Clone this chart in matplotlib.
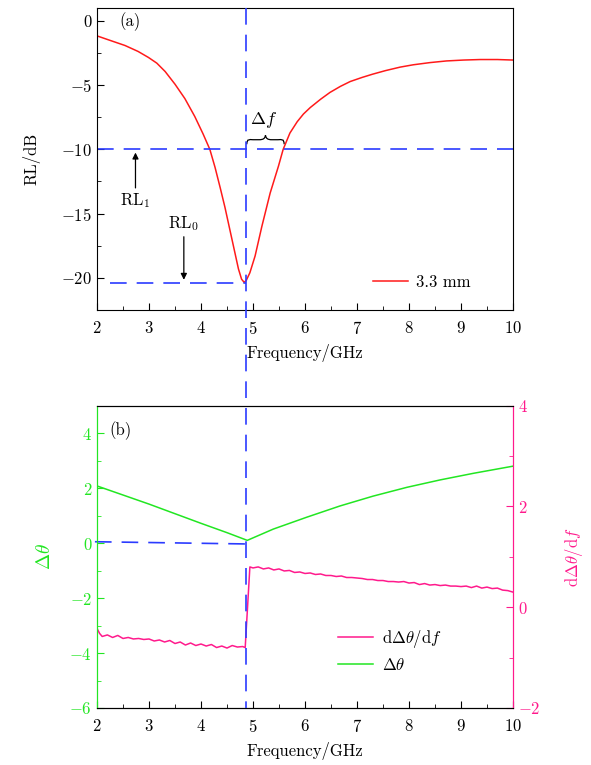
import matplotlib
matplotlib.use("Agg")
import matplotlib.pyplot as plt
from matplotlib.lines import Line2D
from matplotlib.path import Path
from matplotlib.patches import PathPatch
from matplotlib.ticker import MultipleLocator

plt.rcParams['font.family'] = 'serif'
plt.rcParams['font.serif'] = ['cmr10']
plt.rcParams['mathtext.fontset'] = 'cm'
plt.rcParams['axes.formatter.use_mathtext'] = True
plt.rcParams['axes.unicode_minus'] = True
plt.rcParams['font.size'] = 12

# ---- data ----
freq_rl = [2.0, 2.28, 2.54, 2.79, 2.99, 3.15, 3.31, 3.5, 3.69, 3.88, 4.04, 4.17,
           4.27, 4.37, 4.46, 4.59, 4.72, 4.78, 4.83, 4.87, 4.94, 5.04, 5.17,
           5.33, 5.49, 5.58, 5.71, 5.85, 5.97, 6.1, 6.3, 6.48, 6.68, 6.87, 7.1,
           7.3, 7.55, 7.83, 8.08, 8.4, 8.72, 9.05, 9.37, 9.7, 10.0]
rl_33mm = [-1.17, -1.56, -1.92, -2.38, -2.85, -3.29, -3.94, -4.93, -6.05, -7.44,
           -8.8, -10.0, -11.4, -13.0, -14.5, -16.9, -19.3, -20.1, -20.35, -20.2,
           -19.6, -18.3, -16.0, -13.4, -11.3, -10.0, -8.73, -7.85, -7.25, -6.75,
           -6.1, -5.57, -5.1, -4.72, -4.4, -4.15, -3.87, -3.6, -3.42, -3.25,
           -3.12, -3.05, -3.01, -3.01, -3.05]

freq_theta = [2.0, 2.5, 3.0, 3.5, 4.0, 4.5, 4.89, 5.39, 6.03, 6.67, 7.31, 7.96,
              8.6, 9.24, 10.0]
dtheta = [2.08, 1.75, 1.42, 1.07, 0.72, 0.38, 0.1, 0.51, 0.94, 1.35, 1.71, 2.03,
          2.3, 2.54, 2.8]

freq_deriv = [2.0, 2.05, 2.1, 2.2, 2.3, 2.4, 2.5, 2.6, 2.7, 2.8, 2.9, 3.0, 3.1,
              3.2, 3.3, 3.4, 3.5, 3.6, 3.7, 3.8, 3.9, 4.0, 4.1, 4.2, 4.3, 4.4,
              4.5, 4.6, 4.7, 4.8, 4.85, 4.94, 5.0, 5.1, 5.2, 5.3, 5.4, 5.5, 5.6,
              5.7, 5.8, 5.9, 6.0, 6.1, 6.2, 6.3, 6.4, 6.5, 6.6, 6.7, 6.8, 6.9,
              7.0, 7.1, 7.2, 7.3, 7.4, 7.5, 7.6, 7.7, 7.8, 7.9, 8.0, 8.1, 8.2,
              8.3, 8.4, 8.5, 8.6, 8.7, 8.8, 8.9, 9.0, 9.1, 9.2, 9.3, 9.4, 9.5,
              9.6, 9.7, 9.8, 9.9, 10.0]
deriv = [-0.42, -0.52, -0.58, -0.55, -0.60, -0.56, -0.62, -0.60, -0.63, -0.62,
         -0.64, -0.63, -0.67, -0.65, -0.69, -0.66, -0.72, -0.69, -0.75, -0.71,
         -0.76, -0.73, -0.77, -0.74, -0.80, -0.77, -0.81, -0.76, -0.79, -0.78,
         -0.80, 0.80, 0.78, 0.80, 0.76, 0.78, 0.74, 0.76, 0.72, 0.73, 0.69, 0.70,
         0.67, 0.68, 0.65, 0.66, 0.63, 0.63, 0.61, 0.62, 0.59, 0.59, 0.58, 0.57,
         0.55, 0.55, 0.53, 0.53, 0.51, 0.51, 0.50, 0.51, 0.48, 0.49, 0.45, 0.47,
         0.44, 0.45, 0.43, 0.44, 0.42, 0.42, 0.41, 0.42, 0.39, 0.42, 0.38, 0.40,
         0.37, 0.38, 0.34, 0.33, 0.30]

f0 = 4.86          # resonance frequency (vertical guide)
rl0 = -20.37       # RL_0 level
rl1 = -10.0        # RL_1 level
f_hi = 5.6         # upper crossing of RL_1

BLUE = '#2b3bff'
RED = '#ff1a1a'
GREEN = '#22e622'
PINK = '#ff1a8c'
DASH = (10, 6)

fig = plt.figure(figsize=(5.91, 7.65), dpi=100)
W, H = 591, 765
ax1 = fig.add_axes([97 / W, 1 - 310 / H, 416 / W, 302 / H])
ax2 = fig.add_axes([97 / W, 1 - 708 / H, 416 / W, 302.3 / H])

# ---- panel (a) ----
ax1.plot(freq_rl, rl_33mm, color=RED, lw=1.1, label='3.3 mm')
ax1.plot([2, 10], [rl1, rl1], color=BLUE, lw=1.2, dashes=DASH)
ax1.plot([2.25, f0], [rl0, rl0], color=BLUE, lw=1.2, dashes=DASH)
ax1.set_xlim(2, 10)
ax1.set_ylim(-22.5, 1)
ax1.xaxis.set_major_locator(MultipleLocator(1))
ax1.xaxis.set_minor_locator(MultipleLocator(0.5))
ax1.yaxis.set_major_locator(MultipleLocator(5))
ax1.yaxis.set_minor_locator(MultipleLocator(2.5))
ax1.tick_params(which='both', direction='in', top=False, right=False)
ax1.tick_params(which='major', length=5)
ax1.tick_params(which='minor', length=3)
ax1.tick_params(axis='x', pad=7)
ax1.set_xlabel('Frequency/GHz', labelpad=5)
ax1.set_ylabel('RL/dB', labelpad=15)
ax1.legend(loc='center left', bbox_to_anchor=(0.663, 0.093), frameon=False,
           borderaxespad=0, borderpad=0, handlelength=2.1, handletextpad=0.5)
ax1.text(2.63, -0.1, '(a)', ha='center', va='center')
ax1.text(5.2, -7.75, r'$\Delta f$', ha='center', va='center', fontsize=13)
ax1.text(2.74, -13.95, r'RL$_1$', ha='center', va='center')
ax1.text(3.67, -15.8, r'RL$_0$', ha='center', va='center')
ax1.annotate('', xy=(2.74, -10.25), xytext=(2.74, -13.0),
             arrowprops=dict(arrowstyle='-|>', color='black', lw=0.9,
                             mutation_scale=9, shrinkA=0, shrinkB=0))
ax1.annotate('', xy=(3.67, -20.15), xytext=(3.67, -16.8),
             arrowprops=dict(arrowstyle='-|>', color='black', lw=0.9,
                             mutation_scale=9, shrinkA=0, shrinkB=0))

# curly brace over delta f
xa, xb = 4.88, f_hi
xm = 0.5 * (xa + xb)
yb, ymid, yt = -9.6, -9.25, -8.9
d = 0.12
verts = [(xa, yb),
         (xa + 0.01, ymid + 0.1), (xa + 0.04, ymid), (xa + d, ymid),
         (xm - d, ymid),
         (xm - 0.04, ymid), (xm - 0.01, ymid + 0.1), (xm, yt),
         (xm + 0.01, ymid + 0.1), (xm + 0.04, ymid), (xm + d, ymid),
         (xb - d, ymid),
         (xb - 0.04, ymid), (xb - 0.01, ymid + 0.1), (xb, yb)]
codes = [Path.MOVETO,
         Path.CURVE4, Path.CURVE4, Path.CURVE4,
         Path.LINETO,
         Path.CURVE4, Path.CURVE4, Path.CURVE4,
         Path.CURVE4, Path.CURVE4, Path.CURVE4,
         Path.LINETO,
         Path.CURVE4, Path.CURVE4, Path.CURVE4]
ax1.add_patch(PathPatch(Path(verts, codes), fill=False, lw=0.9,
                        edgecolor='black'))

# ---- panel (b) ----
ax2r = ax2.twinx()
l_theta, = ax2.plot(freq_theta, dtheta, color=GREEN, lw=1.1)
ax2.plot([1.96, 4.85], [0.05, -0.03], color=BLUE, lw=1.2, dashes=DASH,
         clip_on=False)
l_der, = ax2r.plot(freq_deriv, deriv, color=PINK, lw=1.1)
ax2.set_xlim(2, 10)
ax2.set_ylim(-6, 5)
ax2r.set_ylim(-2, 4)
ax2.xaxis.set_major_locator(MultipleLocator(1))
ax2.xaxis.set_minor_locator(MultipleLocator(0.5))
ax2.yaxis.set_major_locator(MultipleLocator(2))
ax2.yaxis.set_minor_locator(MultipleLocator(1))
ax2r.yaxis.set_major_locator(MultipleLocator(2))
ax2r.yaxis.set_minor_locator(MultipleLocator(1))
ax2.tick_params(which='both', direction='in', top=False, right=False)
ax2.tick_params(axis='y', which='both', colors=GREEN)
ax2.tick_params(axis='x', pad=7)
ax2r.tick_params(which='both', direction='in', colors=PINK)
for a in (ax2, ax2r):
    a.tick_params(which='major', length=5)
    a.tick_params(which='minor', length=3)
ax2.spines['left'].set_color(GREEN)
ax2r.spines['left'].set_color(GREEN)
ax2r.spines['right'].set_color(PINK)
ax2.spines['right'].set_color(PINK)
ax2.set_xlabel('Frequency/GHz', labelpad=5)
ax2.set_ylabel(r'$\Delta\theta$', color=GREEN, labelpad=11, fontsize=14)
ax2r.set_ylabel(r'$\mathrm{d}\Delta\theta/\mathrm{d}f$', color=PINK, labelpad=16)
ax2.text(2.45, 4.1, '(b)', ha='center', va='center')
ax2r.legend([l_der, l_theta], [r'$\mathrm{d}\Delta\theta/\mathrm{d}f$', r'$\Delta\theta$'],
            loc='upper left', bbox_to_anchor=(0.58, 0.265), frameon=False,
            borderaxespad=0, borderpad=0, handlelength=2.1, handletextpad=0.5,
            labelspacing=0.4)

# vertical guide through both panels
fig.canvas.draw()
xfig = fig.transFigure.inverted().transform(ax1.transData.transform((f0, 0)))[0]
fig.add_artist(Line2D([xfig, xfig], [1 - 8 / H, 1 - 708 / H], color=BLUE, lw=1.2,
                      dashes=DASH, transform=fig.transFigure))

fig.savefig('out.png', dpi=100)
